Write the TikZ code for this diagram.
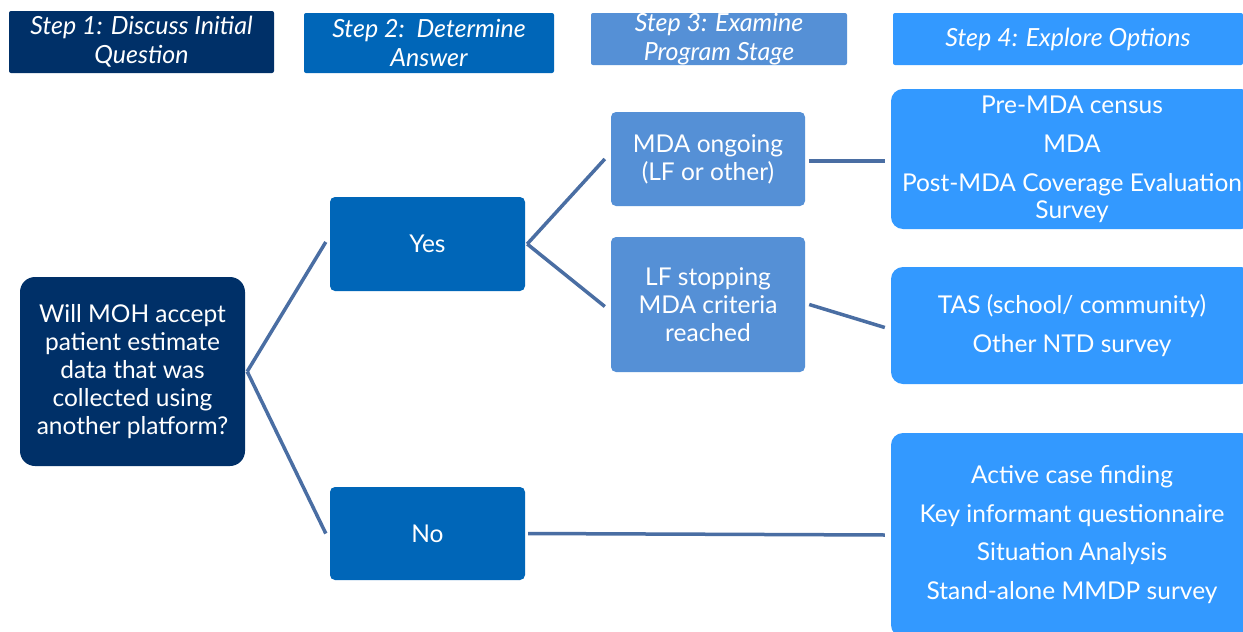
\documentclass[tikz,border=0pt]{standalone}
\usepackage{fontspec}
\setmainfont{Lato}
\usetikzlibrary{positioning}
\definecolor{navy}{HTML}{003068}
\definecolor{mblau}{HTML}{0066B8}
\definecolor{hblau}{HTML}{5590D6}
\definecolor{himmel}{HTML}{3399FF}
\definecolor{linie}{HTML}{4A6EA3}
\tikzset{
  kopf/.style={text=white,align=center,inner sep=0pt,rounded corners=2pt,
    font=\fontsize{25}{29}\selectfont\itshape},
  kasten/.style={text=white,align=center,inner sep=0pt,rounded corners=5pt,
    font=\fontsize{24.5}{28}\selectfont},
  option/.style={kasten,fill=himmel,rounded corners=12pt,minimum width=362,
    font=\fontsize{24.5}{27}\selectfont},
  zweig/.style={linie,line width=3.5pt},
}

\begin{document}
\begin{tikzpicture}[x=1pt,y=-1pt]
  \clip (0,0) rectangle (1243,632);
  \fill[white] (0,0) rectangle (1243,632);
  % Kopfzeile mit den vier Schritten
  \node[kopf,fill=navy,minimum width=265,minimum height=62] (s1) at (141.5,42)
    {Step 1: Discuss Initial\\Question};
  \node[kopf,fill=mblau,minimum width=250,minimum height=60] (s2) at (429,43)
    {Step 2:\ \ Determine\\Answer};
  \node[kopf,fill=hblau,minimum width=256,minimum height=52] (s3) at (719,39)
    {Step 3: Examine\\Program Stage};
  \node[kopf,fill=himmel,minimum width=350,minimum height=52] (s4) at (1068,39)
    {Step 4: Explore Options};
  % Frage und Antworten
  \node[kasten,fill=navy,rounded corners=15pt,minimum width=225,minimum height=189] (frage) at (132.5,371.5)
    {Will MOH accept\\patient estimate\\data that was\\collected using\\another platform?};
  \node[kasten,fill=mblau,minimum width=195,minimum height=94] (ja) at (427.5,244) {Yes};
  \node[kasten,fill=mblau,minimum width=195,minimum height=93] (nein) at (427.5,533.5) {No};
  % Programmstand
  \node[kasten,fill=hblau,minimum width=194,minimum height=94] (mda) at (708,159)
    {MDA ongoing\\(LF or other)};
  \node[kasten,fill=hblau,minimum width=194,minimum height=135] (stopp) at (708,304.5)
    {LF stopping\\MDA criteria\\reached};
  % Optionen
  \node[option,minimum height=140] (opt1) at (1072,159)
    {Pre-MDA census\\[12pt]MDA\\[12pt]Post-MDA Coverage Evaluation\\Survey};
  \node[option,minimum height=117] (opt2) at (1072,325.5)
    {TAS (school/ community)\\[12pt]Other NTD survey};
  \node[option,minimum height=204] (opt3) at (1072,535)
    {Active case finding\\[12pt]Key informant questionnaire\\[11pt]Situation Analysis\\[12pt]Stand-alone MMDP survey};
  % Verbindungen
  \draw[zweig] ([xshift=2]frage.east) -- ([xshift=-4,yshift=2]ja.west);
  \draw[zweig] ([xshift=2]frage.east) -- ([xshift=-4]nein.west);
  \draw[zweig] ([xshift=2]ja.east) -- ([xshift=-6]mda.west);
  \draw[zweig] ([xshift=2]ja.east) -- ([xshift=-6,yshift=-2]stopp.west);
  \draw[zweig] ([xshift=4,yshift=-2]mda.east) -- ([xshift=-6,yshift=-2]opt1.west);
  \draw[zweig] ([xshift=4]stopp.east) -- ([xshift=-6,yshift=-2]opt2.west);
  \draw[zweig] ([xshift=3]nein.east) -- ([xshift=-6]opt3.west);
\end{tikzpicture}
\end{document}
